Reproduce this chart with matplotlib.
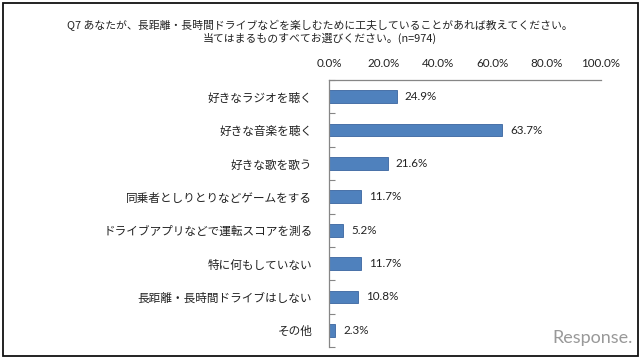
import matplotlib
matplotlib.use('Agg')
import matplotlib.pyplot as plt
from matplotlib.patches import Rectangle
from matplotlib.ticker import FixedLocator, FuncFormatter

plt.rcParams['font.family'] = ['Noto Sans CJK JP', 'DejaVu Sans']

# データ
categories = ['好きなラジオを聴く', '好きな音楽を聴く', '好きな歌を歌う',
              '同乗者としりとりなどゲームをする', 'ドライブアプリなどで運転スコアを測る',
              '特に何もしていない', '長距離・長時間ドライブはしない', 'その他']
values = [24.9, 63.7, 21.6, 11.7, 5.2, 11.7, 10.8, 2.3]
x_ticks = [0, 20, 40, 60, 80, 100]
title_lines = ['Q7 あなたが、長距離・長時間ドライブなどを楽しむために工夫していることがあれば教えてください。',
               '当てはまるものすべてお選びください。(n=974)']

fig = plt.figure(figsize=(6.4, 3.61), dpi=100)
ax = fig.add_axes([329 / 640, 1 - 347 / 361, 272 / 640, 267 / 361])

ypos = list(range(len(categories)))
ax.barh(ypos, values, height=0.38, color='#4F81BD', edgecolor='#3A65A0', linewidth=0.6)

for y, v in zip(ypos, values):
    ax.text(v + 3.0, y, f'{v:.1f}%', va='center', ha='left', fontsize=8.4,
            family=['Lato', 'DejaVu Sans'], color='#222222')

ax.set_xlim(0, 100)
ax.set_ylim(len(categories) - 0.5, -0.5)

# x軸は上側、目盛り線なし
ax.xaxis.tick_top()
ax.set_xticks(x_ticks)
ax.xaxis.set_major_formatter(FuncFormatter(lambda v, p: f'{v:.1f}%'))
ax.tick_params(axis='x', length=0, pad=8, labelsize=8.4, colors='#222222')
for lab in ax.get_xticklabels():
    lab.set_family(['Lato', 'DejaVu Sans'])

ax.set_yticks(ypos)
ax.set_yticklabels(categories)
ax.tick_params(axis='y', which='major', length=0, pad=12, labelsize=8.4, colors='#222222')
ax.yaxis.set_minor_locator(FixedLocator([i - 0.5 for i in range(len(categories) + 1)]))
ax.tick_params(axis='y', which='minor', direction='in', length=4, color='#868686', width=0.8)

for s in ['right', 'bottom']:
    ax.spines[s].set_visible(False)
for s in ['left', 'top']:
    ax.spines[s].set_color('#868686')
    ax.spines[s].set_linewidth(0.9)

fig.text(0.5, 1 - 25.7 / 361, title_lines[0], ha='center', va='center', fontsize=7.8, color='#222222')
fig.text(0.5, 1 - 38.5 / 361, title_lines[1], ha='center', va='center', fontsize=7.8, color='#222222')

# 外枠
fig.patches.append(Rectangle((2.5 / 640, 1 - 356 / 361), 635 / 640, 353.5 / 361,
                             transform=fig.transFigure, fill=False, edgecolor='#111111', linewidth=1.3))

# ロゴ
fig.text(633 / 640, 1 - 338 / 361, 'Response.', ha='right', va='center', fontsize=13,
         family=['Lato', 'DejaVu Sans'], color='#999999')

fig.savefig('out.png', dpi=100)
